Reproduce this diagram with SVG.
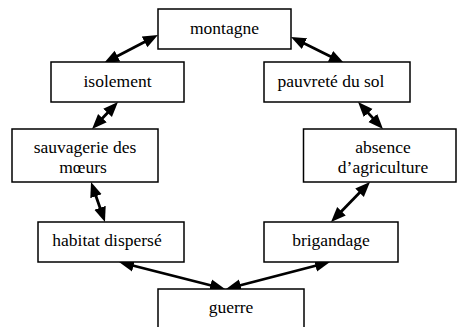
<svg xmlns="http://www.w3.org/2000/svg" width="457" height="327" viewBox="0 0 457 327">
<style>
.box{fill:#fff;stroke:#000;stroke-width:1.5}
.t{font-family:"Liberation Serif","DejaVu Serif","Times New Roman",serif;font-size:17.5px;fill:#000;text-anchor:middle}
.c{stroke:#000;stroke-width:2.8;fill:none;marker-start:url(#ah);marker-end:url(#ah)}
</style>
<defs>
<marker id="ah" markerUnits="userSpaceOnUse" markerWidth="16" markerHeight="13" refX="9" refY="6.5" orient="auto-start-reverse" viewBox="0 0 16 13">
<path d="M0,0.5 L15,6.5 L0,12.5 z" fill="#000"/>
</marker>
</defs>
<rect width="457" height="327" fill="#fff"/>
<g id="connectors">
<line class="c" x1="152.6" y1="37.8" x2="109.4" y2="60.2"/>
<line class="c" x1="296.4" y1="39.6" x2="338.6" y2="60.4"/>
<line class="c" x1="113.8" y1="106.3" x2="96.2" y2="124.7"/>
<line class="c" x1="362.1" y1="106.4" x2="378.9" y2="124.6"/>
<line class="c" x1="93" y1="187.7" x2="103" y2="216.3"/>
<line class="c" x1="365.8" y1="186.3" x2="335.2" y2="217.7"/>
<line class="c" x1="124.8" y1="263.5" x2="219.2" y2="287.5"/>
<line class="c" x1="324.2" y1="263.5" x2="231.8" y2="287.5"/>
</g>
<g id="montagne"><rect class="box" x="158" y="9" width="133" height="40"/><text class="t" font-family="Liberation Serif, serif" x="224.5" y="34">montagne</text></g>
<g id="isolement"><rect class="box" x="51" y="62" width="133" height="40"/><text class="t" font-family="Liberation Serif, serif" x="117.5" y="87">isolement</text></g>
<g id="pauvrete"><rect class="box" x="264" y="62" width="146" height="40"/><text class="t" font-family="Liberation Serif, serif" x="331" y="87">pauvreté du sol</text></g>
<g id="sauvagerie"><rect class="box" x="12" y="129" width="146" height="53"/><text class="t" font-family="Liberation Serif, serif" x="85" y="153">sauvagerie des</text><text class="t" font-family="Liberation Serif, serif" x="83" y="173">mœurs</text></g>
<g id="absence"><rect class="box" x="303.5" y="129" width="152.5" height="53"/><text class="t" font-family="Liberation Serif, serif" x="383" y="153">absence</text><text class="t" font-family="Liberation Serif, serif" x="383" y="173">d’agriculture</text></g>
<g id="habitat"><rect class="box" x="38" y="222" width="146" height="40"/><text class="t" font-family="Liberation Serif, serif" x="107" y="246">habitat dispersé</text></g>
<g id="brigandage"><rect class="box" x="264" y="222" width="134" height="40"/><text class="t" font-family="Liberation Serif, serif" x="331" y="246">brigandage</text></g>
<g id="guerre"><rect class="box" x="158" y="289" width="146" height="45"/><text class="t" font-family="Liberation Serif, serif" x="231" y="313">guerre</text></g>
</svg>
